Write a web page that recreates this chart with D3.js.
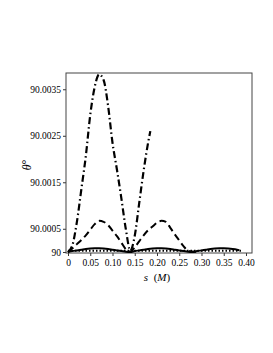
<!DOCTYPE html>
<html>
<head>
<meta charset="utf-8">
<script src="https://cdn.jsdelivr.net/npm/d3@7"></script>
<style>
  html, body { margin: 0; padding: 0; background: #fff; }
  svg { display: block; }
</style>
</head>
<body>
<div id="chart"></div>
<script>
// theta - 90, in units of 1e-4 degree
const sDashDot = [0, 0.01, 0.02, 0.03, 0.04, 0.05, 0.06, 0.07, 0.08, 0.09, 0.10, 0.11, 0.12, 0.13, 0.14, 0.15, 0.16, 0.17, 0.18, 0.185]
const vDashDot = [0, 1.5, 6.5, 13.5, 20.6, 29.5, 35.5, 38.2, 37, 31.5, 23.5, 17.7, 11.5, 4.9, 0.3, 3.5, 10.5, 17.5, 23.5, 26]

const sDashed = [0, 0.01, 0.02, 0.03, 0.04, 0.05, 0.06, 0.07, 0.08, 0.09, 0.10, 0.11, 0.12, 0.13, 0.14, 0.15, 0.16, 0.17, 0.18, 0.19, 0.20, 0.21, 0.22, 0.23, 0.24, 0.25, 0.26, 0.27, 0.28, 0.29]
const vDashed = [0, 0.8, 1.7, 2.6, 3.6, 4.8, 6.0, 6.7, 6.5, 5.8, 4.6, 3.4, 2.0, 0.6, 0.1, 1.0, 2.3, 3.6, 4.7, 5.5, 6.3, 6.7, 6.5, 5.2, 3.8, 2.5, 1.2, 0.3, 0.1, 0]

const sSolid = [0, 0.01, 0.02, 0.03, 0.04, 0.05, 0.06, 0.07, 0.08, 0.09, 0.10, 0.11, 0.12, 0.13, 0.14, 0.15, 0.16, 0.17, 0.18, 0.19, 0.20, 0.21, 0.22, 0.23, 0.24, 0.25, 0.26, 0.27, 0.28, 0.29, 0.30, 0.31, 0.32, 0.33, 0.34, 0.35, 0.36, 0.37, 0.38, 0.385]
const vSolid = [0, 0.2, 0.35, 0.5, 0.65, 0.75, 0.8, 0.8, 0.75, 0.65, 0.5, 0.35, 0.2, 0.05, 0, 0.2, 0.35, 0.5, 0.65, 0.75, 0.8, 0.8, 0.75, 0.65, 0.5, 0.35, 0.2, 0.05, 0, 0.2, 0.35, 0.5, 0.65, 0.75, 0.8, 0.8, 0.75, 0.65, 0.5, 0.4]

const sDotted = [0, 0.05, 0.10, 0.15, 0.20, 0.25, 0.30, 0.35, 0.39]
const vDotted = [0.25, 0.3, 0.3, 0.25, 0.3, 0.3, 0.25, 0.3, 0.3]

const xTicks = [0, 0.05, 0.10, 0.15, 0.20, 0.25, 0.30, 0.35, 0.40]
const yTicks = [0, 5, 15, 25, 35]
const yTickLabels = ['90', '90.0005', '90.0015', '90.0025', '90.0035']

const width = 273
const height = 353

const svg = d3.select('#chart')
    .append('svg')
    .attr('width', width)
    .attr('height', height)

const x = d3.scaleLinear()
    .domain([-0.0045, 0.4135])
    .range([66, 252])

const y = d3.scaleLinear()
    .domain([-0.21, 38.5])
    .range([253, 73])

const font = '"Liberation Serif", "Times New Roman", serif'

// x axis
const xAxis = svg.append('g')
    .attr('transform', `translate(0,${y.range()[0]})`)
    .call(d3.axisBottom(x)
        .tickValues(xTicks)
        .tickSize(3)
        .tickPadding(3)
        .tickFormat(d => d === 0 ? '0' : d3.format('.2f')(d)))
xAxis.selectAll('text')
    .style('font-family', font)
    .style('font-size', '9.5px')
    .attr('fill', '#000')

// y axis
const yAxis = svg.append('g')
    .attr('transform', `translate(${x.range()[0]},0)`)
    .call(d3.axisLeft(y)
        .tickValues(yTicks)
        .tickSize(3)
        .tickPadding(2)
        .tickFormat((d, i) => yTickLabels[i]))
yAxis.selectAll('text')
    .style('font-family', font)
    .style('font-size', '9.5px')
    .attr('fill', '#000')

svg.selectAll('.domain').remove()
svg.selectAll('.tick line').attr('stroke', '#333')

// frame
svg.append('rect')
    .attr('x', x.range()[0])
    .attr('y', y.range()[1])
    .attr('width', x.range()[1] - x.range()[0])
    .attr('height', y.range()[0] - y.range()[1])
    .attr('fill', 'none')
    .attr('stroke', '#444')
    .attr('stroke-width', 1)

const line = d3.line()
    .x(d => x(d[0]))
    .y(d => y(d[1]))
    .curve(d3.curveMonotoneX)

const series = [
    { s: sDotted, v: vDotted, dash: '1.5,2', w: 2 },
    { s: sSolid, v: vSolid, dash: null, w: 2 },
    { s: sDashed, v: vDashed, dash: '7,4', w: 2 },
    { s: sDashDot, v: vDashDot, dash: '7,3,1.5,3', w: 2.2 }
]

series.forEach(ser => {
    svg.append('path')
        .datum(d3.zip(ser.s, ser.v))
        .attr('d', line)
        .attr('fill', 'none')
        .attr('stroke', '#000')
        .attr('stroke-width', ser.w)
        .attr('stroke-dasharray', ser.dash)
})

// axis titles
svg.append('text')
    .attr('x', 157)
    .attr('y', 281)
    .attr('text-anchor', 'middle')
    .style('font-family', font)
    .style('font-size', '11px')
    .html('<tspan font-style="italic">s</tspan>\u2002(<tspan font-style="italic">M</tspan>)')

svg.append('text')
    .attr('transform', 'translate(31,165) rotate(-90)')
    .attr('text-anchor', 'middle')
    .style('font-family', font)
    .style('font-size', '12px')
    .html('<tspan font-style="italic">\u03b8</tspan><tspan dy="-1">\u00b0</tspan>')
</script>
</body>
</html>
